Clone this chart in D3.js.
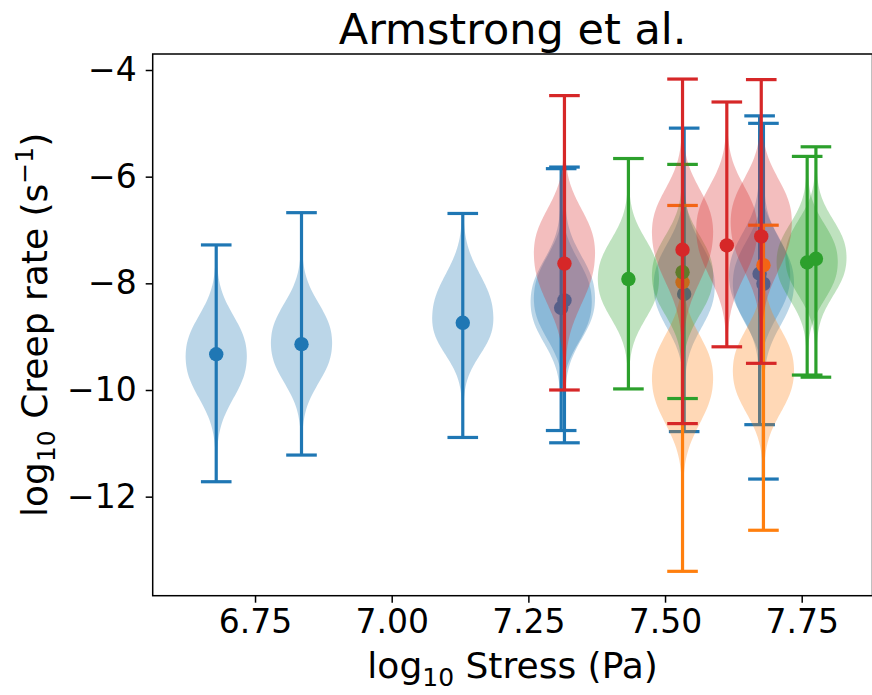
<!DOCTYPE html>
<html>
<head>
<meta charset="utf-8">
<script src="https://cdn.jsdelivr.net/npm/d3@7"></script>
<style>
  body { margin: 0; background: #fff; }
  text { font-family: "DejaVu Sans", sans-serif; fill: #000; }
</style>
</head>
<body>
<div id="chart"></div>
<script>
// values (log10 stress, log10 creep rate)
// x = stress position, dot = marker, min/max = whisker ends,
// mode = widest point of violin, up/down = spread above / below the mode
var blueX    = [6.679, 6.835, 7.130, 7.310, 7.316, 7.535, 7.673, 7.680];
var blueDot  = [-9.33, -9.14, -8.74, -8.46, -8.32, -8.20, -7.82, -8.01];
var blueMin  = [-11.72, -11.22, -10.89, -10.76, -10.99, -10.78, -10.65, -11.67];
var blueMax  = [-7.28, -6.675, -6.69, -5.85, -5.82, -5.09, -4.86, -5.00];
var blueMode = [-9.37, -9.12, -8.66, -8.35, -8.28, -8.05, -7.85, -8.00];
var blueUp   = [0.72, 0.70, 0.78, 0.74, 0.74, 0.74, 0.74, 0.74];
var blueDown = [0.74, 0.70, 0.64, 0.72, 0.72, 0.74, 0.74, 0.74];

var orangeX    = [7.532, 7.680];
var orangeDot  = [-7.98, -7.66];
var orangeMin  = [-13.40, -12.63];
var orangeMax  = [-6.54, -6.91];
var orangeMode = [-9.78, -9.64];
var orangeUp   = [0.76, 0.74];
var orangeDown = [0.80, 0.74];

var greenX    = [7.433, 7.532, 7.760, 7.776];
var greenDot  = [-7.92, -7.79, -7.61, -7.54];
var greenMin  = [-9.98, -10.16, -9.72, -9.76];
var greenMax  = [-5.66, -5.77, -5.62, -5.44];
var greenMode = [-7.92, -7.85, -7.60, -7.52];
var greenUp   = [0.70, 0.70, 0.67, 0.67];
var greenDown = [0.70, 0.70, 0.67, 0.67];

var redX    = [7.316, 7.532, 7.613, 7.676];
var redDot  = [-7.63, -7.37, -7.29, -7.12];
var redMin  = [-10.00, -10.63, -9.19, -9.50];
var redMax  = [-4.48, -4.17, -4.60, -4.18];
var redMode = [-7.43, -7.04, -6.98, -6.85];
var redUp   = [0.77, 0.76, 0.76, 0.76];
var redDown = [0.90, 0.88, 0.85, 0.86];

var xTicks = [6.75, 7.00, 7.25, 7.50, 7.75];
var yTicks = [-12, -10, -8, -6, -4];

var svgWidth = 872;
var svgHeight = 695;

var plotLeft = 152.7, plotRight = 872.5, plotTop = 54, plotBottom = 595.7;
var violinWidth = 0.112;

var series = [
  {color: "#1f77b4", x: blueX, dot: blueDot, min: blueMin, max: blueMax, mode: blueMode, up: blueUp, down: blueDown},
  {color: "#ff7f0e", x: orangeX, dot: orangeDot, min: orangeMin, max: orangeMax, mode: orangeMode, up: orangeUp, down: orangeDown},
  {color: "#2ca02c", x: greenX, dot: greenDot, min: greenMin, max: greenMax, mode: greenMode, up: greenUp, down: greenDown},
  {color: "#d62728", x: redX, dot: redDot, min: redMin, max: redMax, mode: redMode, up: redUp, down: redDown}
];

var svg = d3.select("#chart")
  .append("svg")
  .attr("width", svgWidth)
  .attr("height", svgHeight);

var xScale = d3.scaleLinear()
  .domain([6.5628, 7.8795])
  .range([plotLeft, plotRight]);

var yScale = d3.scaleLinear()
  .domain([-13.857, -3.70])
  .range([plotBottom, plotTop]);

var halfPx = (xScale(violinWidth) - xScale(0)) / 2;
var capPx = halfPx / 2;

// relative violin width at a value v (1 at the mode, thin tails towards the whiskers)
function profile(v, mode, up, down) {
  var d = v - mode;
  var s = d > 0 ? up : down;
  var core = Math.exp(-Math.pow(Math.abs(d) / s, 2.4) / 2);
  return 0.94 * core + 0.06 * Math.exp(-Math.abs(d) / 1.4);
}

var plot = svg.append("g");

series.forEach(function(s) {
  var g = plot.append("g");
  var rows = s.x.map(function(x, i) {
    return {x: x, dot: s.dot[i], min: s.min[i], max: s.max[i], mode: s.mode[i], up: s.up[i], down: s.down[i]};
  });

  // violin bodies
  rows.forEach(function(r) {
    var pts = d3.range(0, 161).map(function(k) {
      var v = r.min + (r.max - r.min) * k / 160;
      return {v: v, w: profile(v, r.mode, r.up, r.down) * halfPx};
    });
    var area = d3.area()
      .y(function(p) { return yScale(p.v); })
      .x0(function(p) { return xScale(r.x) - p.w; })
      .x1(function(p) { return xScale(r.x) + p.w; });
    g.append("path")
      .attr("d", area(pts))
      .attr("fill", s.color)
      .attr("fill-opacity", 0.3)
      .attr("stroke", "none");
  });

  // whisker bars and caps
  rows.forEach(function(r) {
    var cx = xScale(r.x);
    g.append("line")
      .attr("x1", cx).attr("x2", cx)
      .attr("y1", yScale(r.min)).attr("y2", yScale(r.max))
      .attr("stroke", s.color).attr("stroke-width", 3.2);
    [r.min, r.max].forEach(function(v) {
      g.append("line")
        .attr("x1", cx - capPx).attr("x2", cx + capPx)
        .attr("y1", yScale(v)).attr("y2", yScale(v))
        .attr("stroke", s.color).attr("stroke-width", 3.2);
    });
  });

  // markers
  g.selectAll("circle")
    .data(rows)
    .enter()
    .append("circle")
    .attr("cx", function(r) { return xScale(r.x); })
    .attr("cy", function(r) { return yScale(r.dot); })
    .attr("r", 7.2)
    .attr("fill", s.color);
});

// axes
var bottomAxis = d3.axisBottom(xScale)
  .tickValues(xTicks)
  .tickFormat(d3.format(".2f"))
  .tickSize(7)
  .tickPadding(7);

var leftAxis = d3.axisLeft(yScale)
  .tickValues(yTicks)
  .tickFormat(d3.format("d"))
  .tickSize(7)
  .tickPadding(9);

var xAxisG = svg.append("g")
  .attr("transform", `translate(0, ${plotBottom})`)
  .call(bottomAxis);

var yAxisG = svg.append("g")
  .attr("transform", `translate(${plotLeft}, 0)`)
  .call(leftAxis);

[xAxisG, yAxisG].forEach(function(a) {
  a.select(".domain").remove();
  a.selectAll("line").attr("stroke", "#000").attr("stroke-width", 1.5);
  a.selectAll("text")
    .attr("fill", "#000")
    .style("font-family", "'DejaVu Sans', sans-serif")
    .style("font-size", "33px");
});

// frame
svg.append("rect")
  .attr("x", plotLeft)
  .attr("y", plotTop)
  .attr("width", plotRight - plotLeft)
  .attr("height", plotBottom - plotTop)
  .attr("fill", "none")
  .attr("stroke", "#000")
  .attr("stroke-width", 1.5);

// title
svg.append("text")
  .attr("x", (plotLeft + plotRight) / 2)
  .attr("y", 44)
  .attr("text-anchor", "middle")
  .style("font-size", "43px")
  .text("Armstrong et al.");

// x label
var xLabel = svg.append("text")
  .attr("x", (plotLeft + plotRight) / 2)
  .attr("y", 678)
  .attr("text-anchor", "middle")
  .style("font-size", "36px");
xLabel.append("tspan").text("log");
xLabel.append("tspan").attr("dy", 8).style("font-size", "25px").text("10");
xLabel.append("tspan").attr("dy", -8).text(" Stress (Pa)");

// y label
var yLabel = svg.append("text")
  .attr("transform", `translate(47, ${(plotTop + plotBottom) / 2}) rotate(-90)`)
  .attr("text-anchor", "middle")
  .style("font-size", "36px");
yLabel.append("tspan").text("log");
yLabel.append("tspan").attr("dy", 8).style("font-size", "25px").text("10");
yLabel.append("tspan").attr("dy", -8).text(" Creep rate (s");
yLabel.append("tspan").attr("dy", -14).style("font-size", "25px").text("\u22121");
yLabel.append("tspan").attr("dy", 14).text(")");
</script>
</body>
</html>
